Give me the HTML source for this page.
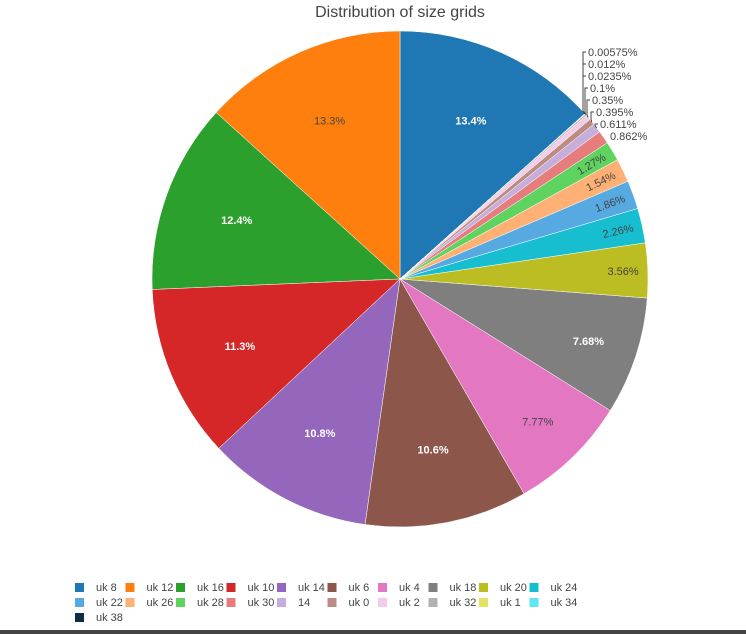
<!DOCTYPE html>
<html><head><meta charset="utf-8"><style>
body{margin:0;background:#fff;font-family:"Liberation Sans",Verdana,sans-serif}
svg{display:block}
</style></head><body>
<svg id="c" width="746" height="634">
<text x="400" y="17" text-anchor="middle" font-size="16" fill="#444">Distribution of size grids</text>
<g id="slices"></g><g id="labels"></g><g id="legend"></g>
<rect x="0" y="630" width="746" height="4" fill="#444"/>
</svg>
<script>
const categories=["uk 8","uk 12","uk 16","uk 10","uk 14","uk 6","uk 4","uk 18","uk 20","uk 24","uk 22","uk 26","uk 28","uk 30","14","uk 0","uk 2","uk 32","uk 1","uk 34","uk 38"];
const values=[13.4,13.3,12.4,11.3,10.8,10.6,7.77,7.68,3.56,2.26,1.86,1.54,1.27,0.862,0.611,0.395,0.35,0.1,0.0235,0.012,0.00575];
const valueLabels=["13.4%","13.3%","12.4%","11.3%","10.8%","10.6%","7.77%","7.68%","3.56%","2.26%","1.86%","1.54%","1.27%","0.862%","0.611%","0.395%","0.35%","0.1%","0.0235%","0.012%","0.00575%"];
const colors=["#1f77b4","#ff7f0e","#2ca02c","#d62728","#9467bd","#8c564b","#e377c2","#7f7f7f","#bcbd22","#17becf","#57a9e2","#ffb175","#5fd35f","#e77c7c","#c6aedc","#bc8b81","#f4cce8","#b2b2b2","#e2e362","#5fe6f5","#0f2d44"];
const darkText=[false,true,false,false,false,false,true,false,true,true,true,true,true];
const NS="http://www.w3.org/2000/svg";
const cx=400,cy=279,R=248;
const total=values.reduce((a,b)=>a+b,0);
function pt(a,r){return [cx+r*Math.sin(a),cy-r*Math.cos(a)];}
const gS=document.getElementById('slices'),gL=document.getElementById('labels'),gG=document.getElementById('legend');
// blue ends at top going counterclockwise; start angle = clockwise by first fraction
let end=values[0]/total*2*Math.PI;
let outsideIdx=0;
const outY=[136,124,112,100,88,76,64,52];
values.forEach((v,i)=>{
  const sweep=v/total*2*Math.PI;
  const a1=end, a0=end-sweep; end=a0;
  const p0=pt(a0,R),p1=pt(a1,R);
  const path=document.createElementNS(NS,'path');
  path.setAttribute('d',`M${cx},${cy}L${p0[0]},${p0[1]}A${R},${R} 0 ${sweep>Math.PI?1:0} 1 ${p1[0]},${p1[1]}Z`);
  path.setAttribute('fill',colors[i]);path.setAttribute('stroke','#fff');path.setAttribute('stroke-width','0.5');
  
  
  gS.appendChild(path);
  const mid=(a0+a1)/2;
  const t=document.createElementNS(NS,'text');
  t.setAttribute('font-size','11');
  
  
  t.textContent=valueLabels[i];
  if(v>=1){
    const f=v>10?0.7:(v>5?0.8:0.9);
    const p=pt(mid,R*f);
    t.setAttribute('x',p[0]);t.setAttribute('y',p[1]+4);t.setAttribute('text-anchor','middle');
    t.setAttribute('fill',darkText[i]?'#444':'#fff');
    if(!darkText[i])t.setAttribute('font-weight','bold');
    if(v<3){t.setAttribute('transform',`rotate(${mid*180/Math.PI-90} ${p[0]} ${p[1]})`);}
  } else {
    const k=outsideIdx++;
    const y=outY[k];
    const lx=[608,598,594,590,588,586,586,586][k];
    const p=pt(mid,R);
    const q=pt(mid,R+4);
    t.setAttribute('x',lx+2);t.setAttribute('y',y+4);t.setAttribute('fill','#444');
    if(k>0){
      const ln=document.createElementNS(NS,'path');
      const vx=lx-3;
      ln.setAttribute('d',`M${p[0]},${p[1]}L${vx},${Math.max(q[1],y)}L${vx},${y}L${lx},${y}`);
      ln.setAttribute('stroke','#444');ln.setAttribute('fill','none');ln.setAttribute('stroke-width','1');
      
      
      gL.appendChild(ln);
    }
  }
  gL.appendChild(t);
  // legend
  const col=i%10,row=Math.floor(i/10);
  const lx=75+col*50.5,ly=587+row*15;
  const g=document.createElementNS(NS,'g');
  
  
  const r=document.createElementNS(NS,'rect');
  r.setAttribute('x',lx);r.setAttribute('y',ly-4);r.setAttribute('width',9);r.setAttribute('height',9);r.setAttribute('fill',colors[i]);
  const tx=document.createElementNS(NS,'text');
  tx.setAttribute('x',lx+21);tx.setAttribute('y',ly+4);tx.setAttribute('font-size','11');tx.setAttribute('fill','#444');
  tx.textContent=categories[i];
  g.appendChild(r);g.appendChild(tx);gG.appendChild(g);
});
</script>
</body></html>
